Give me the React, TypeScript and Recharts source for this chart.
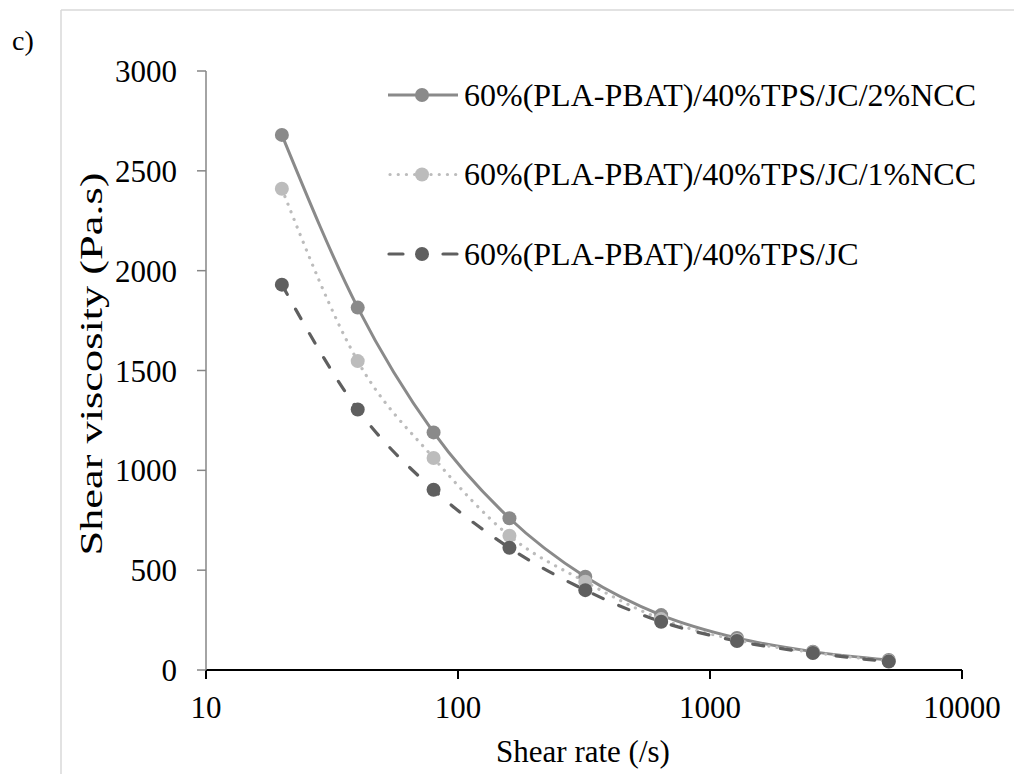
import React from 'react';
import { LineChart, Line, XAxis, YAxis, Legend } from 'recharts';

const shearRates = [20, 40, 80, 160, 320, 640, 1280, 2560, 5120];
const ncc2 = [2680, 1815, 1190, 760, 467, 275, 160, 92, 50];
const ncc1 = [2410, 1547, 1062, 672, 442, 255, 150, 88, 45];
const ncc0 = [1930, 1305, 903, 612, 400, 242, 145, 85, 42];
const xTicks = [10, 100, 1000, 10000];
const yTicks = [0, 500, 1000, 1500, 2000, 2500, 3000];
const seriesNames = [
  '60%(PLA-PBAT)/40%TPS/JC/2%NCC',
  '60%(PLA-PBAT)/40%TPS/JC/1%NCC',
  '60%(PLA-PBAT)/40%TPS/JC',
];
const panelLabel = 'c)';
const xTitle = 'Shear rate (/s)';
const yTitle = 'Shear viscosity (Pa.s)';

const COLORS = ['#8a8a8a', '#bcbcbc', '#5f5f5f'];
const FONT = "'Liberation Serif', 'Times New Roman', serif";
const serif = { fontFamily: FONT };

const data = shearRates.map((r, i) => ({ rate: r, s2: ncc2[i], s1: ncc1[i], s0: ncc0[i] }));

const XTitle = () => (
  <text x={583} y={762} textAnchor="middle" fontSize={31} fontFamily={FONT} style={serif} fill="#000">
    {xTitle}
  </text>
);

const YTitle = () => (
  <text
    x={0}
    y={0}
    transform="translate(102 364) rotate(-90) scale(1.43 1)"
    textAnchor="middle"
    fontSize={31}
    fontFamily={FONT}
    style={serif}
    fill="#000"
  >
    {yTitle}
  </text>
);

const LegendContent = () => (
  <svg width={640} height={250} style={{ display: 'block', overflow: 'visible' }}>
    {seriesNames.map((name, i) => {
      const cy = 35 + i * 79.5;
      const c = COLORS[i];
      return (
        <g key={name}>
          {i === 0 && <line x1={18} x2={88} y1={cy} y2={cy} stroke={c} strokeWidth={3} />}
          {i === 1 && (
            <line x1={20} x2={88} y1={cy} y2={cy} stroke={c} strokeWidth={3.2} strokeDasharray="0.1 8.1" strokeLinecap="round" />
          )}
          {i === 2 && (
            <>
              <line x1={19} x2={33} y1={cy} y2={cy} stroke={c} strokeWidth={3.2} strokeLinecap="round" />
              <line x1={73} x2={87} y1={cy} y2={cy} stroke={c} strokeWidth={3.2} strokeLinecap="round" />
            </>
          )}
          <circle cx={52} cy={cy} r={7} fill={c} />
          <text x={94} y={cy + 10.5} fontSize={32} fontFamily={FONT} style={serif} fill="#000">
            {name}
          </text>
        </g>
      );
    })}
  </svg>
);

export default function App() {
  return (
    <div style={{ position: 'absolute', left: 0, top: 0, width: 1014, height: 774, background: '#fff', fontFamily: FONT }}>
      <svg width={1014} height={774} style={{ position: 'absolute', left: 0, top: 0 }}>
        <line x1={61} x2={61} y1={10} y2={774} stroke="#d9d9d9" strokeWidth={1.5} />
        <line x1={61} x2={1014} y1={10} y2={10} stroke="#d9d9d9" strokeWidth={1.5} />
        <text x={12} y={50} fontSize={28} fontFamily={FONT} style={serif} fill="#000">
          {panelLabel}
        </text>
      </svg>
      <div style={{ position: 'absolute', left: 0, top: 0 }}>
        <LineChart width={1014} height={774} data={data} margin={{ top: 71, right: 52, left: 0, bottom: 0 }}>
          <XAxis
            dataKey="rate"
            type="number"
            scale="log"
            domain={[10, 10000]}
            ticks={xTicks}
            height={104}
            tickSize={9}
            tickMargin={17}
            axisLine={{ stroke: '#000', strokeWidth: 2 }}
            tickLine={{ stroke: '#000', strokeWidth: 2 }}
            tick={{ fontSize: 31, fontFamily: FONT, fill: '#000' }}
            interval={0}
            label={<XTitle />}
          />
          <YAxis
            type="number"
            domain={[0, 3000]}
            ticks={yTicks}
            width={206}
            tickSize={9}
            tickMargin={20}
            axisLine={{ stroke: '#868686', strokeWidth: 1.5 }}
            tickLine={{ stroke: '#868686', strokeWidth: 1.5 }}
            tick={{ fontSize: 31, fontFamily: FONT, fill: '#000' }}
            interval={0}
            label={<YTitle />}
          />
          <Legend
            layout="vertical"
            verticalAlign="middle"
            align="center"
            content={<LegendContent />}
            wrapperStyle={{ position: 'absolute', left: 370, top: 60, width: 640, height: 250 }}
          />
          <Line
            dataKey="s2"
            name={seriesNames[0]}
            stroke={COLORS[0]}
            strokeWidth={3}
            dot={{ r: 7, fill: COLORS[0], stroke: 'none' }}
            activeDot={false}
            isAnimationActive={false}
            type="monotone"
          />
          <Line
            dataKey="s1"
            name={seriesNames[1]}
            stroke={COLORS[1]}
            strokeWidth={3.2}
            strokeDasharray="0.1 8.1"
            strokeLinecap="round"
            dot={{ r: 7, fill: COLORS[1], stroke: 'none', strokeDasharray: '' }}
            activeDot={false}
            isAnimationActive={false}
            type="monotone"
          />
          <Line
            dataKey="s0"
            name={seriesNames[2]}
            stroke={COLORS[2]}
            strokeWidth={3.2}
            strokeDasharray="11 17"
            strokeLinecap="round"
            dot={{ r: 7, fill: COLORS[2], stroke: 'none', strokeDasharray: '' }}
            activeDot={false}
            isAnimationActive={false}
            type="monotone"
          />
        </LineChart>
      </div>
    </div>
  );
}
